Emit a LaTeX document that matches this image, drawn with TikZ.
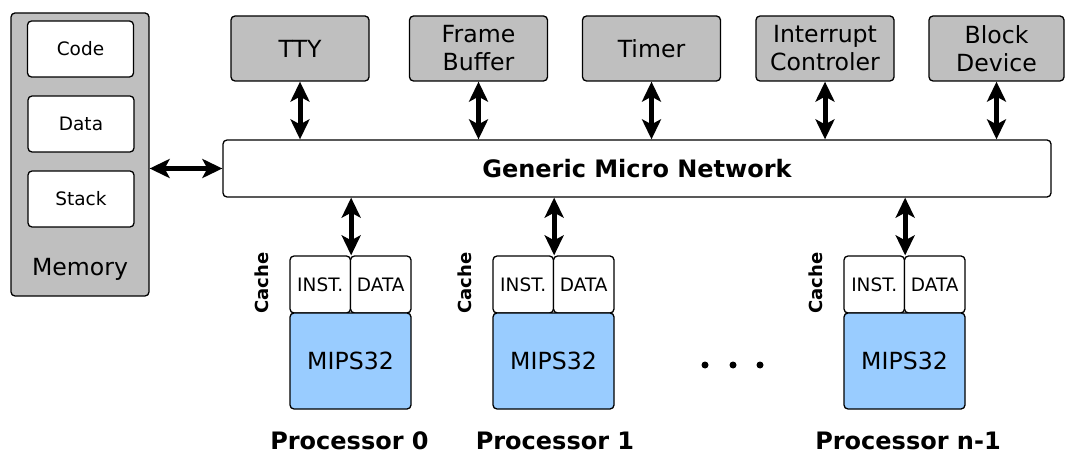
\documentclass[tikz,border=0pt]{standalone}
\usepackage{fontspec}
\setmainfont{DejaVu Sans}
\usetikzlibrary{arrows.meta}
\definecolor{boxgray}{RGB}{191,191,191}
\definecolor{cpublue}{RGB}{153,204,255}
\begin{document}
\begin{tikzpicture}[x=1pt,y=-1pt,
 box/.style={draw=black, line width=1.3pt, rounded corners=4pt, inner sep=0pt, align=center},
 dev/.style={box, fill=boxgray, minimum width=138pt, minimum height=65pt, font=\fontsize{23.6}{28}\selectfont},
 memcell/.style={box, fill=white, minimum width=106pt, minimum height=56pt, font=\fontsize{18.5}{22}\selectfont},
 cachecell/.style={box, fill=white, minimum width=60.5pt, minimum height=57pt, font=\fontsize{18.5}{22}\selectfont},
 cpu/.style={box, fill=cpublue, minimum width=121pt, minimum height=96pt, font=\fontsize{23.6}{28}\selectfont},
 biarrow/.style={line width=5pt, {Stealth[length=20pt,width=19pt,inset=5pt]}-{Stealth[length=20pt,width=19pt,inset=5pt]}},
 boldlbl/.style={font=\fontsize{24}{28}\selectfont\bfseries, inner sep=0pt},
 cachelbl/.style={font=\fontsize{18}{22}\selectfont\bfseries, rotate=90, inner sep=0pt},
]
\useasboundingbox (0,0) rectangle (1065,454);

% Memory
\node[box, fill=boxgray, minimum width=138pt, minimum height=283pt] (mem) at (80,154.5) {};
\node[memcell] (code) at (80.5,49) {Code};
\node[memcell] (data) at (81,124) {Data};
\node[memcell] (stack) at (81,199) {Stack};
\node[font=\fontsize{23.6}{28}\selectfont, anchor=base, inner sep=0pt] (memlbl) at (80,276) {Memory};

% Devices
\node[dev] (tty) at (300,48.5) {TTY};
\node[dev] (fb) at (478.5,48.5) {Frame\\Buffer};
\node[dev] (timer) at (651.5,48.5) {Timer};
\node[dev] (irq) at (825,48.5) {Interrupt\\Controler};
\node[dev, minimum width=135pt] (blk) at (996.5,48.5) {Block\\Device};

% Network
\node[box, fill=white, minimum width=828pt, minimum height=57pt, font=\fontsize{24}{28}\selectfont\bfseries] (net) at (637,168.5) {Generic Micro Network};

\draw[biarrow] (mem.east |- net.west) -- (net.west);
\foreach \d in {tty,fb,timer,irq,blk}{
  \draw[biarrow] (\d.south) -- (\d.south |- net.north);
}

% Processors
\foreach \i/\x/\lx/\lbl in {0/290/349.5/0, 1/493/555/1, 2/844/908/n-1}{
  \node[cachecell] (inst\i) at (\x+30.25,284.5) {INST.};
  \node[cachecell] (dat\i) at (\x+90.75,284.5) {DATA};
  \node[cpu] (cpu\i) at (\x+60.5,361) {MIPS32};
  \node[cachelbl] (cache\i) at (\x-28,283) {Cache};
  \node[boldlbl, anchor=base] (plbl\i) at (\lx,449) {Processor \lbl};
  \draw[biarrow] (net.south -| inst\i.north east) -- (inst\i.north east);
}

% Ellipsis dots
\fill (705,365) circle[radius=3.5pt];
\fill (733,365) circle[radius=3.5pt];
\fill (760,365) circle[radius=3.5pt];
\end{tikzpicture}
\end{document}
